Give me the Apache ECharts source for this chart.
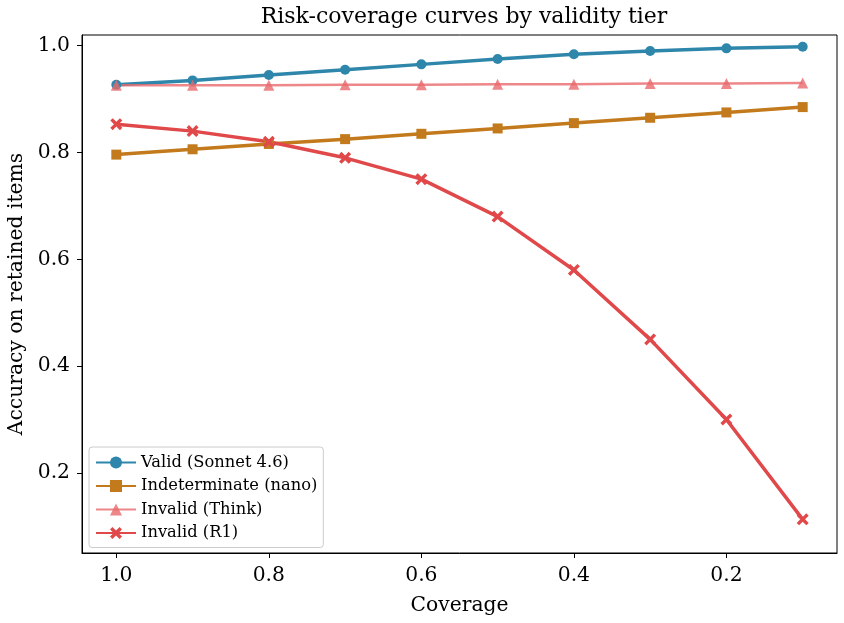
<!DOCTYPE html>
<html>
<head>
<meta charset="utf-8">
<script src="https://cdn.jsdelivr.net/npm/echarts@6/dist/echarts.min.js"></script>
<style>
  html, body { margin: 0; padding: 0; background: #fff; }
  #chart { width: 844px; height: 623px; }
</style>
</head>
<body>
<div id="chart"></div>
<script>
// coverage levels (x axis runs from 1.0 down to 0.1)
var coverage = [1.0, 0.9, 0.8, 0.7, 0.6, 0.5, 0.4, 0.3, 0.2, 0.1]
var validSonnet = [0.927, 0.935, 0.945, 0.955, 0.965, 0.975, 0.984, 0.990, 0.995, 0.998]
var indeterminateNano = [0.796, 0.806, 0.816, 0.825, 0.835, 0.845, 0.855, 0.865, 0.875, 0.885]
var invalidThink = [0.926, 0.926, 0.926, 0.927, 0.927, 0.928, 0.928, 0.929, 0.929, 0.930]
var invalidR1 = [0.853, 0.840, 0.820, 0.790, 0.750, 0.680, 0.580, 0.450, 0.300, 0.113]
var xTicks = [0.2, 0.4, 0.6, 0.8, 1.0]
var yTicks = [0.2, 0.4, 0.6, 0.8, 1.0]

var font = 'DejaVu Serif'

function pairs (ys) {
  return coverage.map(function (x, i) { return [x, ys[i]] })
}

function makeSeries (name, ys, color, symbol, size, width, opacity) {
  return {
    name: name,
    type: 'line',
    data: pairs(ys),
    symbol: symbol,
    symbolSize: size,
    lineStyle: { color: color, width: width, opacity: opacity },
    itemStyle: { color: color, opacity: opacity },
    emphasis: { disabled: true },
    animation: false
  }
}

var chart = echarts.init(document.getElementById('chart'))
var option = {
  backgroundColor: '#fff',
  title: {
    text: 'Risk-coverage curves by validity tier',
    left: 459,
    top: 1,
    textAlign: 'center',
    textStyle: { fontFamily: font, fontSize: 22, fontWeight: 'normal', color: '#000' }
  },
  grid: {
    left: 82,
    right: 7,
    top: 35,
    bottom: 70,
    show: true,
    borderColor: '#000',
    borderWidth: 1,
    containLabel: false,
    outerBoundsMode: 'none'
  },
  legend: {
    orient: 'vertical',
    left: 89,
    top: 447,
    padding: [7, 6, 6, 6],
    itemGap: 6.5,
    itemWidth: 40,
    itemHeight: 15,
    backgroundColor: 'rgba(255,255,255,0.8)',
    borderColor: '#cccccc',
    borderWidth: 1,
    borderRadius: 3,
    textStyle: { fontFamily: font, fontSize: 16.3, color: '#000', lineHeight: 17 },
    data: ['Valid (Sonnet 4.6)', 'Indeterminate (nano)', 'Invalid (Think)', 'Invalid (R1)']
  },
  xAxis: {
    type: 'value',
    inverse: true,
    min: 0.055,
    max: 1.045,
    name: 'Coverage',
    nameLocation: 'middle',
    nameGap: 43,
    nameTextStyle: { fontFamily: font, fontSize: 20.3, color: '#000' },
    axisLine: { show: true, lineStyle: { color: '#000', width: 1 } },
    axisTick: { show: true, inside: false, length: 5, customValues: xTicks, lineStyle: { color: '#000' } },
    axisLabel: {
      customValues: xTicks,
      fontFamily: font, fontSize: 20.3, color: '#000', margin: 13,
      formatter: function (v) { return v.toFixed(1) }
    },
    splitLine: { show: false }
  },
  yAxis: {
    type: 'value',
    min: 0.05,
    max: 1.02,
    name: 'Accuracy on retained items',
    nameLocation: 'middle',
    nameGap: 55,
    nameTextStyle: { fontFamily: font, fontSize: 20.3, color: '#000' },
    axisLine: { show: true, lineStyle: { color: '#000', width: 1 } },
    axisTick: { show: true, inside: false, length: 5, customValues: yTicks, lineStyle: { color: '#000' } },
    axisLabel: {
      customValues: yTicks,
      fontFamily: font, fontSize: 20.3, color: '#000', margin: 12,
      formatter: function (v) { return v.toFixed(1) }
    },
    splitLine: { show: false }
  },
  series: [
    makeSeries('Valid (Sonnet 4.6)', validSonnet, '#2e86ab', 'circle', 10, 3.5, 1),
    makeSeries('Indeterminate (nano)', indeterminateNano, '#c27a1c', 'rect', 10, 3.5, 1),
    makeSeries('Invalid (Think)', invalidThink, '#e8696d', 'triangle', 11, 2.5, 0.8),
    makeSeries('Invalid (R1)', invalidR1, '#e0484a', 'path://M-3,-5 L0,-2 L3,-5 L5,-3 L2,0 L5,3 L3,5 L0,2 L-3,5 L-5,3 L-2,0 L-5,-3 Z', 12, 3.5, 1)
  ]
}
chart.setOption(option)
</script>
</body>
</html>
